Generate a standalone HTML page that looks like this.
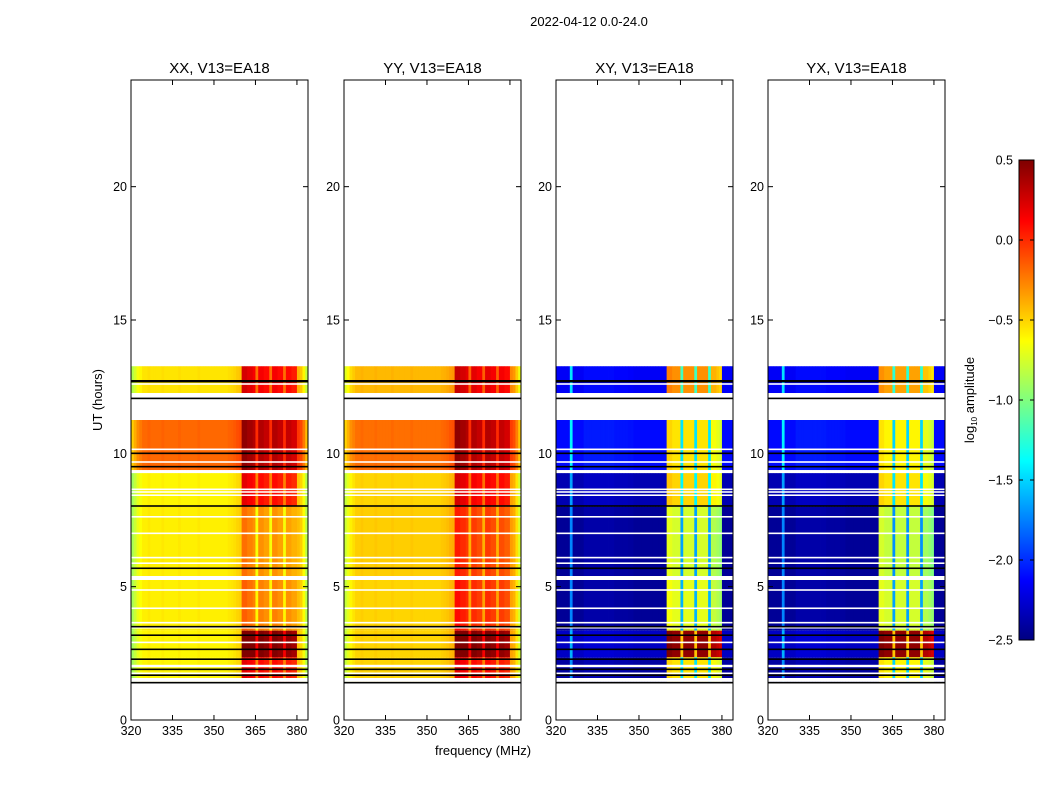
<!DOCTYPE html>
<html><head><meta charset="utf-8"><style>
html,body{margin:0;padding:0;background:#fff;}
svg{display:block;font-family:"Liberation Sans",sans-serif;}
</style></head><body>
<svg id="fig" width="1050" height="800" viewBox="0 0 1050 800" xmlns="http://www.w3.org/2000/svg">
<text x="589" y="26" font-size="13" text-anchor="middle">2022-04-12 0.0-24.0</text>
<text x="483" y="755" font-size="13" text-anchor="middle">frequency (MHz)</text>
<text x="0" y="0" font-size="13" text-anchor="middle" transform="translate(102,400) rotate(-90)">UT (hours)</text>
<g id="panels"></g>
<g id="cbar"></g>
</svg>
<script>
// ---- data ----
const panelTitles = ["XX, V13=EA18","YY, V13=EA18","XY, V13=EA18","YX, V13=EA18"];
const segStart = [12.26, 9.37, 8.0, 5.4, 3.35, 2.35, 1.44];
const segEnd   = [13.27, 11.25, 9.26, 8.0, 5.25, 3.35, 2.35];
const bgXX   = [-0.55, -0.18, -0.6, -0.58, -0.58, -0.6, -0.6];
const bandXX = [0.1, 0.3, 0.05, -0.35, -0.3, 0.45, 0.05];
const bgYY   = [-0.42, -0.2, -0.5, -0.48, -0.5, -0.5, -0.5];
const bandYY = [0.15, 0.3, 0.1, -0.1, -0.05, 0.45, 0.05];
const bgXY   = [-2.15, -2.1, -2.35, -2.43, -2.43, -2.3, -2.4];
const bandXY = [-0.3, -0.55, -0.5, -0.75, -0.7, 0.45, -0.55];
const bgYX   = [-2.15, -2.1, -2.35, -2.43, -2.43, -2.3, -2.4];
const bandYX = [-0.35, -0.6, -0.55, -0.8, -0.75, 0.45, -0.6];
const colBgPar = [-0.3,-0.2,-0.1,-0.05,0,0,0.02,0,0,0, 0,0.02,0,0,0,0,0,0.02,0,0, 0,0,0,0,0.02,0,0,0,0,0, 0,0,0,0,0,0.02,0.03,0.05,0.08,0.1, 0,0,0,0,0,0,0,0,0,0, 0,0,0,0,0,0,0,0,0,0, 0.15,0.1,-0.05,-0.25];
const colBgCross = [0,0,0,0,0,0.7,0,0,0,0, 0.05,0.05,0.05,0.05,0.05,0.05,0.05,0.05,0.05,0.05, 0.05,0.03,0.03,0.03,0.03,0.03,0.02,0.02,0,0, 0,0,0,0,0,0,0,0,0,0, 0,0,0,0,0,0,0,0,0,0, 0,0,0,0,0,0,0,0,0,0, 0,0,0,0];
const colBandPar = [0.15,0.15,0.1,0.1,0.05,-0.3,0.05,0.05,0,0,-0.3,0.05,0.05,0,0,-0.3,0,0,-0.05,-0.05];
const colBandCross = [0.05,0.05,0,0,0,-0.9,0,0,0,0,-0.9,0,0,0,0,-0.9,-0.1,-0.1,-0.15,-0.2];
const whiteBands = [[11.25,12.26],[9.26,9.37],[5.25,5.4],[1.98,2.07],[1.44,1.575],[13.27,24]];
const whiteLines = [12.6,10.15,9.675,8.65,8.55,8.43,7.62,7.0,6.09,5.88,4.875,4.19,3.65,3.46,2.91,1.75];
const blackLines = [12.72,12.06,10.0,9.5,8.025,5.69,3.5,3.18,2.65,2.28,1.9,1.68,1.4];
const xTicks = [320,335,350,365,380];
const yTicks = [0,5,10,15,20];
const cbTicks = [0.5,0.0,-0.5,-1.0,-1.5,-2.0,-2.5];
const bandFirst = 360, bandCount = 20;

const NS="http://www.w3.org/2000/svg";
const panelLeft=[131,344,556,768], panelW=177, pTop=80, pBottom=720;
const fMin=320, fMax=384, hMin=0, hMax=24;
const bgs=[bgXX,bgYY,bgXY,bgYX], bands=[bandXX,bandYY,bandXY,bandYX];
const colBgs=[colBgPar,colBgPar,colBgCross,colBgCross], colBands=[colBandPar,colBandPar,colBandCross,colBandCross];
function clip(v){return Math.max(0,Math.min(1,v));}
function jet(v){const t=clip((v+2.5)/3);
 const r=clip(1.5-Math.abs(4*t-3)),g=clip(1.5-Math.abs(4*t-2)),b=clip(1.5-Math.abs(4*t-1));
 return `rgb(${Math.round(r*255)},${Math.round(g*255)},${Math.round(b*255)})`;}
function mk(tag,attrs,parent){const e=document.createElementNS(NS,tag);for(const k in attrs)e.setAttribute(k,attrs[k]);parent.appendChild(e);return e;}
const yS=h=>pBottom-(h-hMin)/(hMax-hMin)*(pBottom-pTop);
const panels=document.getElementById('panels');
for(let p=0;p<4;p++){
 const L=panelLeft[p]; const xS=f=>L+(f-fMin)/(fMax-fMin)*panelW;
 const g=mk('g',{},panels);
 
 
 for(let s=0;s<segStart.length;s++){
  for(let c=0;c<fMax-fMin;c++){
   const f=fMin+c; const inBand=f>=bandFirst&&f<bandFirst+bandCount;
   const v=inBand?bands[p][s]+colBands[p][f-bandFirst]:bgs[p][s]+colBgs[p][c];
   const r=mk('rect',{x:xS(f).toFixed(2),y:yS(segEnd[s]).toFixed(2),width:(xS(f+1)-xS(f)+0.4).toFixed(2),height:(yS(segStart[s])-yS(segEnd[s])).toFixed(2),fill:jet(v)},g);
   
   
  }
 }
 whiteBands.forEach(w=>{const r=mk('rect',{x:L,y:yS(w[1]),width:panelW,height:yS(w[0])-yS(w[1]),fill:'#fff'},g);
  
  });
 whiteLines.forEach(h=>{const r=mk('rect',{x:L,y:yS(h)-0.8,width:panelW,height:1.6,fill:'#fff'},g);
  
  });
 blackLines.forEach((h,i)=>{const r=mk('rect',{x:L,y:yS(h)-0.8,width:panelW,height:i===0?2.4:1.6,fill:'#000'},g);
  
  });
 const fr=mk('rect',{x:L,y:pTop,width:panelW,height:pBottom-pTop,fill:'none',stroke:'#000','stroke-width':1},g);
 
 
 xTicks.forEach(f=>{const x=xS(f);
  mk('line',{x1:x,x2:x,y1:pBottom,y2:pBottom-5,stroke:'#000'},g);
  mk('line',{x1:x,x2:x,y1:pTop,y2:pTop+5,stroke:'#000'},g);
  const t=mk('text',{x:x,y:pBottom+15,'font-size':12.5,'text-anchor':'middle'},g);t.textContent=f;
  
  });
 yTicks.forEach(h=>{const y=yS(h);
  mk('line',{x1:L,x2:L+5,y1:y,y2:y,stroke:'#000'},g);
  mk('line',{x1:L+panelW,x2:L+panelW-5,y1:y,y2:y,stroke:'#000'},g);
  const t=mk('text',{x:L-4,y:y+4.5,'font-size':12.5,'text-anchor':'end'},g);t.textContent=h;
  
  });
 const ti=mk('text',{x:L+panelW/2,y:73,'font-size':15,'text-anchor':'middle'},g);ti.textContent=panelTitles[p];
 
 
}
// colorbar
const cb=document.getElementById('cbar');


const cbX=1019,cbW=15,cbT=160,cbB=640,vMax=0.5,vMin=-2.5;
const cbY=v=>cbB-(v-vMin)/(vMax-vMin)*(cbB-cbT);
for(let i=0;i<240;i++){const v0=vMin+(vMax-vMin)*i/240,v1=vMin+(vMax-vMin)*(i+1)/240;
 mk('rect',{x:cbX,y:cbY(v1),width:cbW,height:cbY(v0)-cbY(v1)+0.5,fill:jet((v0+v1)/2)},cb);}
mk('rect',{x:cbX,y:cbT,width:cbW,height:cbB-cbT,fill:'none',stroke:'#000'},cb);
cbTicks.forEach(v=>{const y=cbY(v);
 mk('line',{x1:cbX,x2:cbX+4,y1:y,y2:y,stroke:'#000'},cb);
 mk('line',{x1:cbX+cbW,x2:cbX+cbW-4,y1:y,y2:y,stroke:'#000'},cb);
 const t=mk('text',{x:1013,y:y+4.5,'font-size':12.5,'text-anchor':'end'},cb);
 t.textContent=(v<0?'\u2212':'')+Math.abs(v).toFixed(1);
 
 });
const cl=mk('text',{x:0,y:0,'font-size':13,'text-anchor':'middle',transform:'translate(974,400) rotate(-90)'},cb);
cl.innerHTML='log<tspan font-size="8" dy="3">10</tspan><tspan dy="-3"> amplitude</tspan>';


</script>
</body></html>
